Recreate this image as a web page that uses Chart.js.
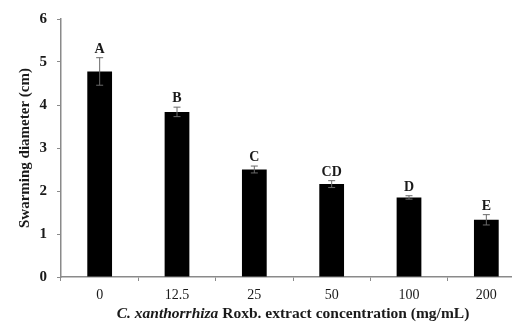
<!DOCTYPE html>
<html>
<head>
<meta charset="utf-8">
<script src="https://cdn.jsdelivr.net/npm/chart.js@4.4.0/dist/chart.umd.min.js"></script>
<style>
  html, body { margin: 0; padding: 0; background: #fff; overflow: hidden; }
  #wrap { position: relative; width: 540px; height: 327px; }
</style>
</head>
<body>
<div id="wrap"><canvas id="chartSwarm"></canvas></div>
<script>
// datos
const concentraciones = ["0", "12.5", "25", "50", "100", "200"];
const diametros = [4.78, 3.84, 2.50, 2.16, 1.85, 1.33];
const errores = [0.32, 0.11, 0.08, 0.08, 0.04, 0.12];
const letras = ["A", "B", "C", "CD", "D", "E"];
const yTicks = [0, 1, 2, 3, 4, 5, 6];

const SERIF = "'Liberation Serif', 'Times New Roman', serif";
const TEXT = "#1a1a1a";
const AXIS = "#8a8a8a";

// barras de error + letras de significancia
const errorBars = {
    id: "errorBars",
    afterDatasetsDraw(chart) {
        const ctx = chart.ctx;
        const y = chart.scales.y;
        const meta = chart.getDatasetMeta(0);
        ctx.save();
        meta.data.forEach((bar, i) => {
            const top = y.getPixelForValue(diametros[i] + errores[i]);
            const bot = y.getPixelForValue(diametros[i] - errores[i]);
            ctx.strokeStyle = "#6a6a6a";
            ctx.lineWidth = 1;
            ctx.beginPath();
            ctx.moveTo(bar.x, top);
            ctx.lineTo(bar.x, bot);
            ctx.moveTo(bar.x - 3.5, top);
            ctx.lineTo(bar.x + 3.5, top);
            ctx.moveTo(bar.x - 3.5, bot);
            ctx.lineTo(bar.x + 3.5, bot);
            ctx.stroke();

            ctx.fillStyle = TEXT;
            ctx.font = "bold 14px " + SERIF;
            ctx.textAlign = "center";
            ctx.textBaseline = "alphabetic";
            ctx.fillText(letras[i], bar.x, top - 5);
        });
        ctx.restore();
    }
};

// titulo del eje X con parte en cursiva
const xTitle = {
    id: "xTitle",
    afterDraw(chart) {
        const ctx = chart.ctx;
        const area = chart.chartArea;
        const parte1 = "C. xanthorrhiza";
        const parte2 = " Roxb. extract concentration (mg/mL)";
        const f = 15.5;
        ctx.save();
        ctx.fillStyle = TEXT;
        ctx.textBaseline = "middle";
        ctx.textAlign = "left";
        ctx.font = `italic bold ${f}px ${SERIF}`;
        const w1 = ctx.measureText(parte1).width;
        ctx.font = `bold ${f}px ${SERIF}`;
        const w2 = ctx.measureText(parte2).width;
        let x0 = (area.left + area.right) / 2 - (w1 + w2) / 2;
        const yy = 314;
        ctx.font = `italic bold ${f}px ${SERIF}`;
        ctx.fillText(parte1, x0, yy);
        ctx.font = `bold ${f}px ${SERIF}`;
        ctx.fillText(parte2, x0 + w1, yy);
        ctx.restore();
    }
};

const ctx = document.getElementById("chartSwarm");

new Chart(ctx, {
    type: "bar",
    data: {
        labels: concentraciones,
        datasets: [{
            data: diametros,
            backgroundColor: "#000",
            borderWidth: 0,
            barPercentage: 0.64,
            categoryPercentage: 0.5
        }]
    },
    options: {
        responsive: true,
        maintainAspectRatio: false,
        animation: false,
        layout: { padding: { top: 12, right: 15, bottom: 0, left: 0 } },
        plugins: {
            legend: { display: false },
            tooltip: { enabled: false }
        },
        scales: {
            x: {
                offset: true,
                grid: {
                    offset: true,
                    drawOnChartArea: false,
                    drawTicks: true,
                    tickLength: 4,
                    color: AXIS
                },
                border: { color: AXIS, width: 1.5 },
                ticks: {
                    color: TEXT,
                    font: { family: SERIF, size: 14 },
                    padding: 6
                },
                afterFit(scale) { scale.height = 50; }
            },
            y: {
                min: 0,
                max: 6,
                afterBuildTicks(scale) { scale.ticks = yTicks.map(v => ({ value: v })); },
                grid: {
                    drawOnChartArea: false,
                    tickLength: 4,
                    color: AXIS
                },
                border: { color: AXIS, width: 1.5 },
                ticks: {
                    color: TEXT,
                    font: { family: SERIF, size: 15, weight: "bold" },
                    padding: 10
                },
                title: {
                    display: true,
                    text: "Swarming diameter (cm)",
                    color: TEXT,
                    font: { family: SERIF, size: 15, weight: "bold" },
                    padding: { top: 16, bottom: 0 }
                },
                afterFit(scale) { scale.width = 61; }
            }
        }
    },
    plugins: [errorBars, xTitle]
});
</script>
</body>
</html>
